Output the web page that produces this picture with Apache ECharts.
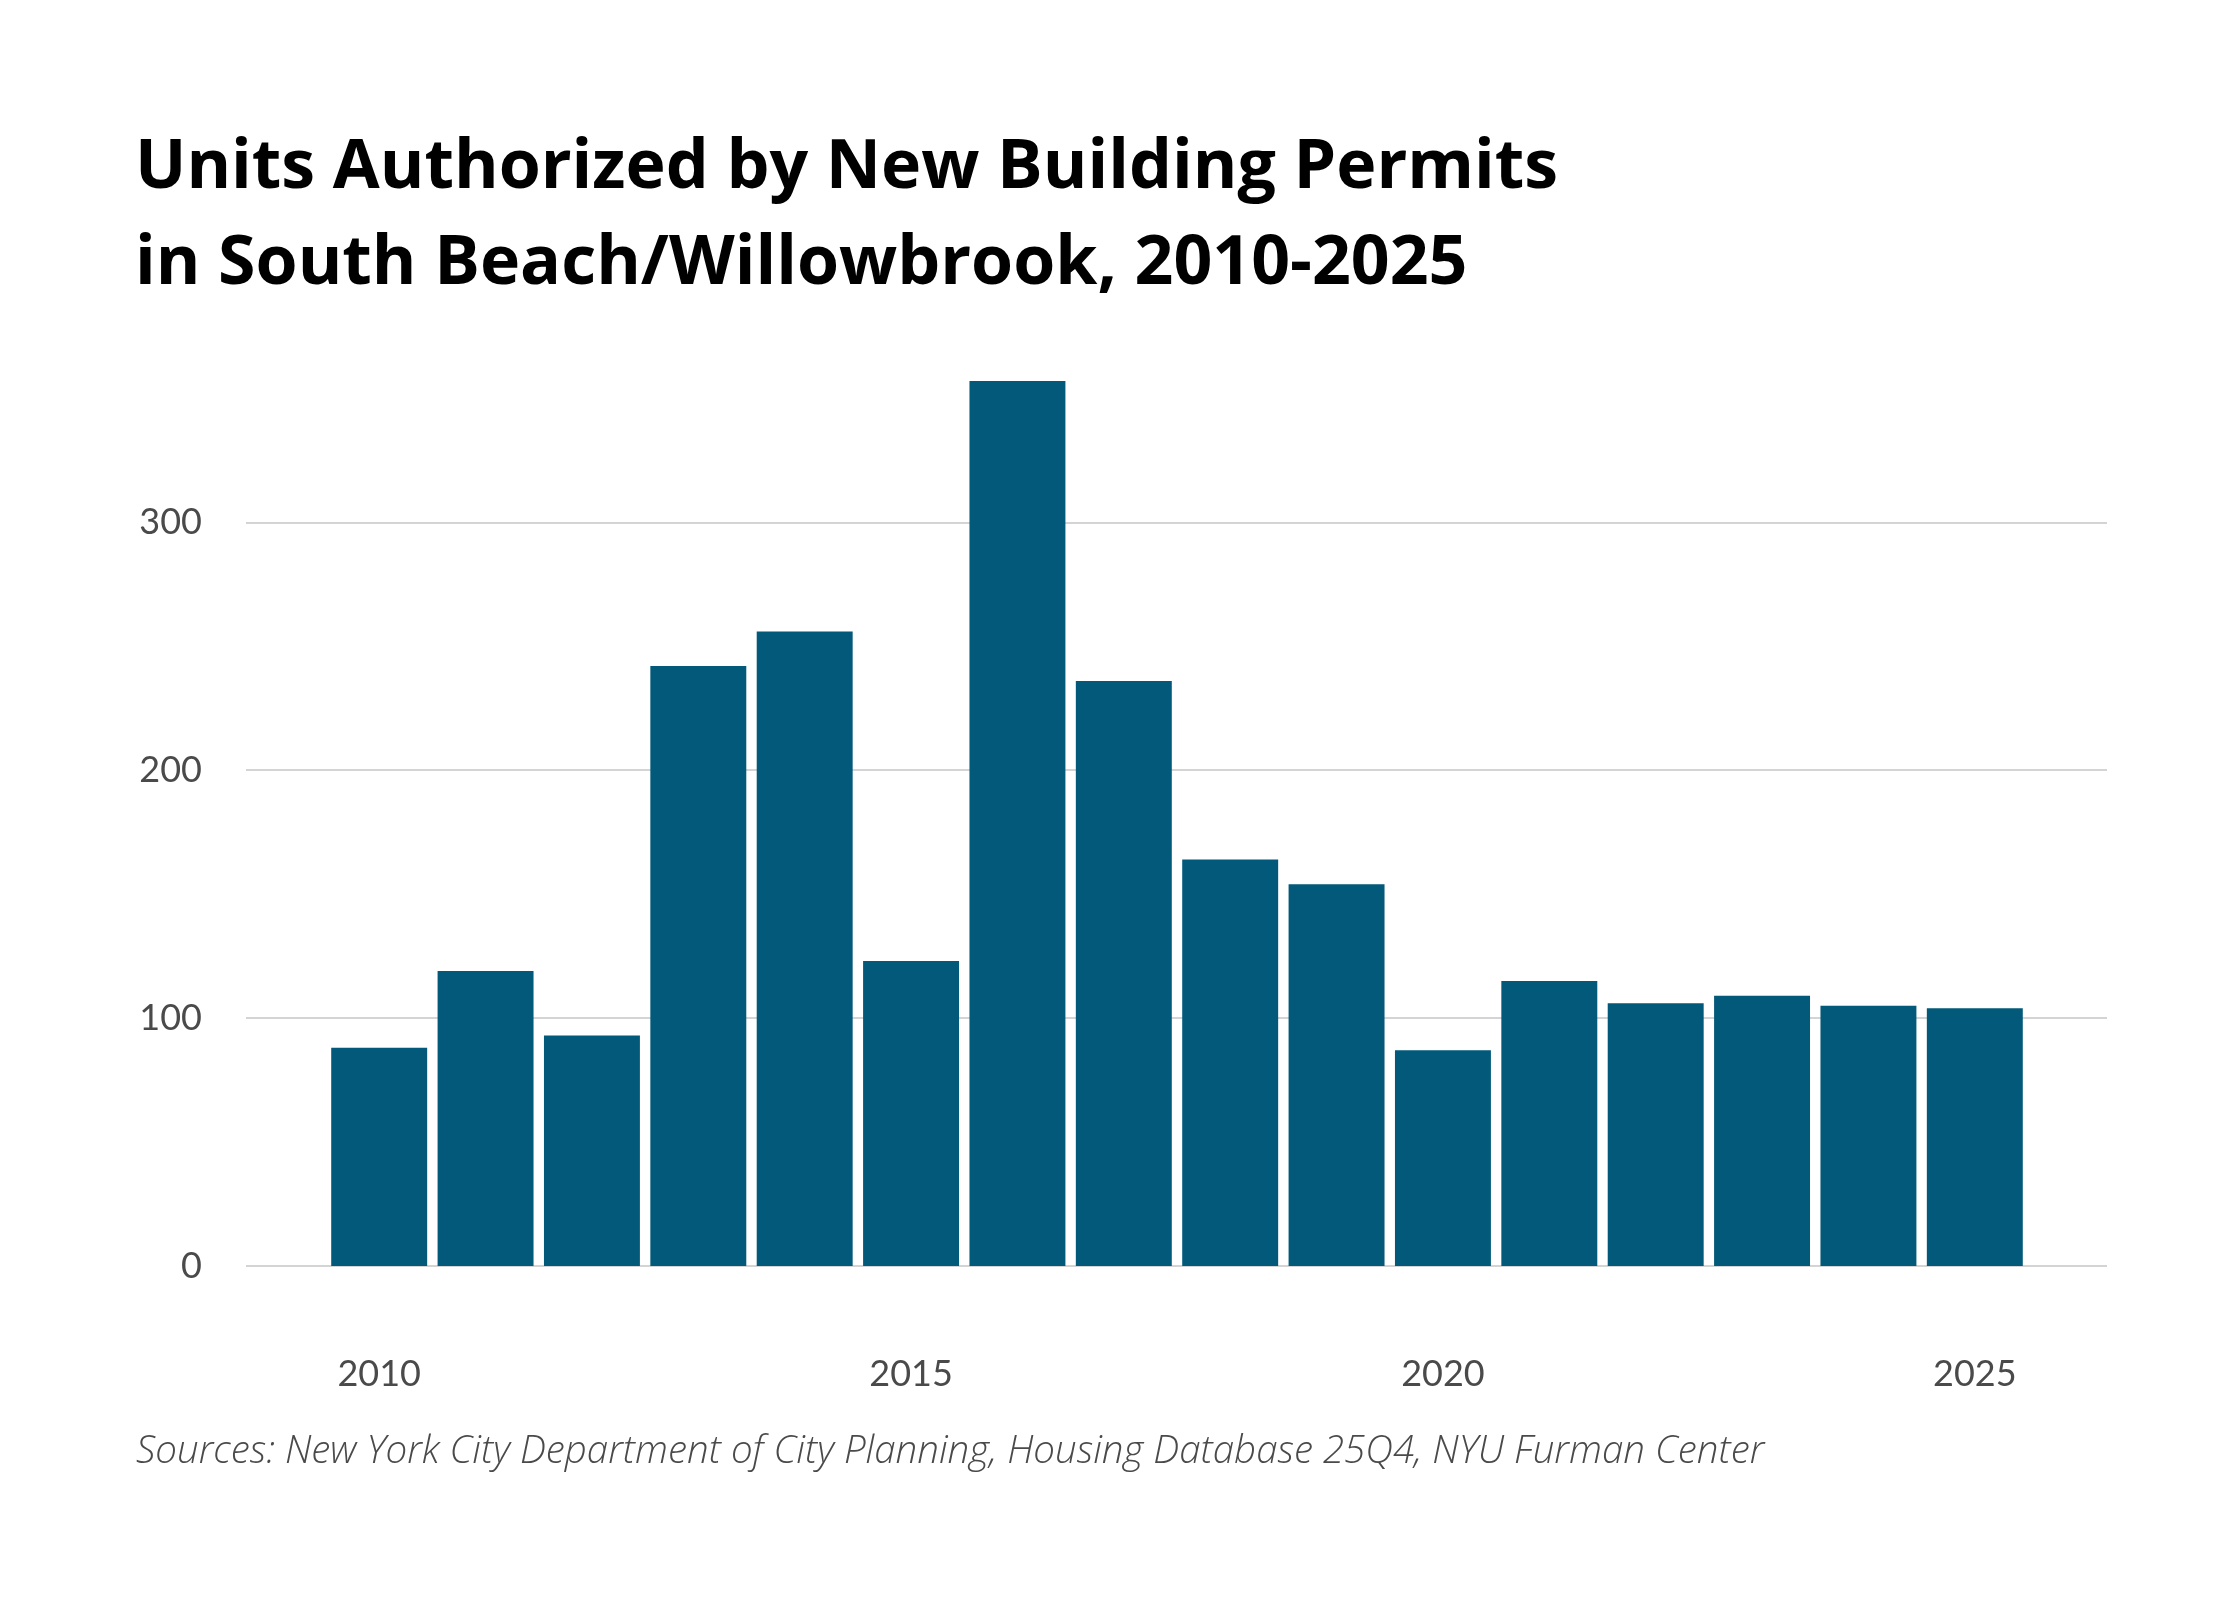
<!DOCTYPE html>
<html>
<head>
<meta charset="utf-8">
<script src="https://cdn.jsdelivr.net/npm/echarts@6/dist/echarts.min.js"></script>
<style>
  html, body { margin: 0; padding: 0; background: #fff; }
  #chart { width: 2240px; height: 1600px; }
</style>
</head>
<body>
<div id="chart"></div>
<script>
// data
const years = [ '2010', '2011', '2012', '2013', '2014', '2015', '2016', '2017',
	'2018', '2019', '2020', '2021', '2022', '2023', '2024', '2025' ];
const units = [ 88, 119, 93, 242, 256, 123, 357, 236, 164, 154, 87, 115, 106, 109, 105, 104 ];
const yTicks = [ 0, 100, 200, 300 ];

const titleText = 'Units Authorized by New Building Permits\nin South Beach/Willowbrook, 2010-2025';
const sourceText = 'Sources: New York City Department of City Planning, Housing Database 25Q4, NYU Furman Center';

const barColor = '#02597a';
const gridColor = '#d4d4d4';
const labelColor = '#4a4a4a';
const labelFont = 'Lato, "Noto Sans", sans-serif';

const gridTop = 381;
const gridBottom = 1600 - 1266;
const yMax = Math.max( ...units );

const chart = echarts.init( document.getElementById( 'chart' ), null, { renderer: 'canvas' } );

// split lines for every tick except the top one (yMax)
const lineColors = yTicks.map( () => gridColor ).concat( [ 'rgba(0,0,0,0)' ] );

chart.setOption( {
	backgroundColor: '#fff',
	animation: false,
	title: [ {
		text: titleText,
		left: 130,
		top: 116,
		textStyle: {
			fontFamily: '"Open Sans", sans-serif',
			fontWeight: 700,
			fontSize: 68,
			lineHeight: 96,
			color: '#000'
		}
	}, {
		text: sourceText,
		left: 131,
		top: 1428,
		textStyle: {
			fontFamily: '"Open Sans", sans-serif',
			fontStyle: 'italic',
			fontWeight: 300,
			fontSize: 38.5,
			color: labelColor
		}
	} ],
	grid: [
		// wide grid: y axis labels and gridlines
		{ left: 246, right: 133, top: gridTop, bottom: gridBottom },
		// narrower grid: the bars
		{ left: 326, right: 212, top: gridTop, bottom: gridBottom }
	],
	xAxis: [ {
		gridIndex: 0,
		type: 'value',
		show: false
	}, {
		gridIndex: 1,
		type: 'category',
		data: years,
		axisLine: { show: false },
		axisTick: { show: false },
		axisLabel: {
			interval: 4,
			margin: 90,
			fontFamily: labelFont,
			fontSize: 36,
			color: labelColor
		}
	} ],
	yAxis: [ {
		gridIndex: 0,
		type: 'value',
		min: 0,
		max: yMax,
		interval: 100,
		axisLine: { show: false },
		axisTick: { show: false },
		axisLabel: {
			margin: 44,
			fontFamily: labelFont,
			fontSize: 36,
			color: labelColor,
			formatter: ( v ) => yTicks.includes( v ) ? String( v ) : ''
		},
		splitLine: {
			show: true,
			lineStyle: { color: lineColors, width: 2 }
		}
	}, {
		gridIndex: 1,
		type: 'value',
		min: 0,
		max: yMax,
		show: false,
		splitLine: { show: false }
	} ],
	series: [ {
		type: 'bar',
		xAxisIndex: 1,
		yAxisIndex: 1,
		data: units,
		barCategoryGap: '9.8%',
		itemStyle: { color: barColor },
		z: 3
	} ]
} );
</script>
</body>
</html>
